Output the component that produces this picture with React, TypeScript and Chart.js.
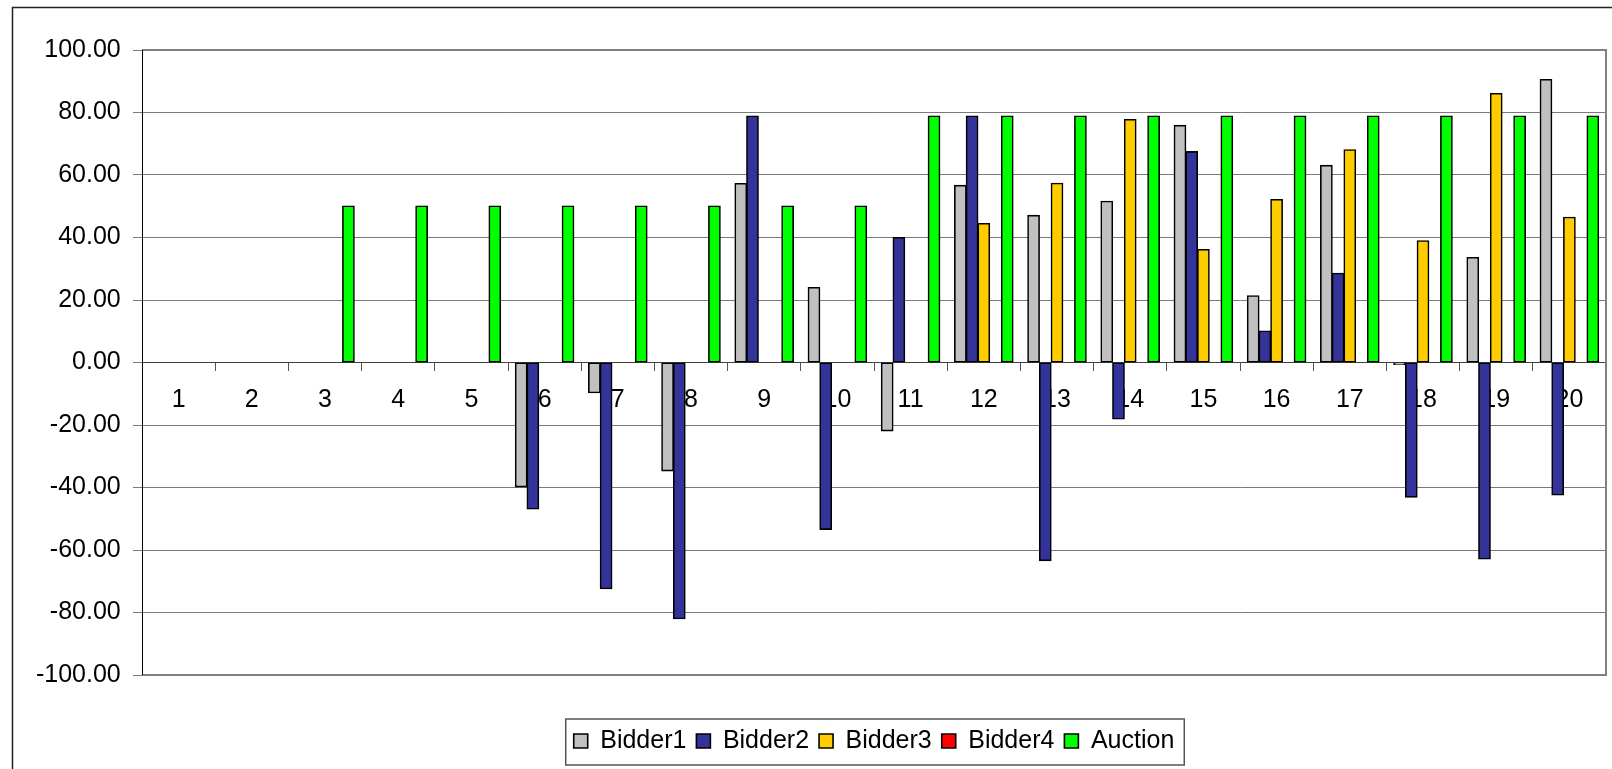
import React, { useEffect, useRef } from 'react';
import { Chart, registerables } from 'chart.js';

Chart.register(...registerables);

const categories = ['1', '2', '3', '4', '5', '6', '7', '8', '9', '10', '11', '12', '13', '14', '15', '16', '17', '18', '19', '20'];

const bidder1 = [0, 0, 0, 0, 0, -39.8, -9.7, -34.7, 57.3, 24.0, -21.9, 56.7, 47.1, 51.6, 75.9, 21.4, 63.1, -0.6, 33.6, 90.6];
const bidder2 = [0, 0, 0, 0, 0, -46.9, -72.4, -82.0, 78.9, -53.4, 40.0, 78.9, -63.4, -18.1, 67.5, 10.1, 28.6, -43.1, -62.9, -42.4];
const bidder3 = [0, 0, 0, 0, 0, 0, 0, 0, 0, 0, 0, 44.5, 57.4, 77.8, 36.2, 52.2, 68.1, 39.0, 86.1, 46.5];
const bidder4 = [0, 0, 0, 0, 0, 0, 0, 0, 0, 0, 0, 0, 0, 0, 0, 0, 0, 0, 0, 0];
const auction = [0, 0, 50.1, 50.1, 50.1, 50.1, 50.1, 50.1, 50.1, 50.1, 78.9, 78.9, 78.9, 78.9, 78.9, 78.9, 78.9, 78.9, 78.9, 78.9];

const seriesNames = ['Bidder1', 'Bidder2', 'Bidder3', 'Bidder4', 'Auction'];
const seriesColors = ['#C0C0C0', '#333399', '#FFCC00', '#FF0000', '#00FF00'];

const yMin = -100;
const yMax = 100;
const yStep = 20;

const FONT_FAMILY = "'Liberation Sans', Arial, sans-serif";

export default function App() {
  const ref = useRef<HTMLCanvasElement | null>(null);

  useEffect(() => {
    const canvas = ref.current;
    if (!canvas) return;

    const framePlugin = {
      id: 'excelFrame',
      beforeDraw(chart: any) {
        const ctx = chart.ctx;
        ctx.save();
        ctx.fillStyle = '#ffffff';
        ctx.fillRect(0, 0, chart.width, chart.height);
        ctx.strokeStyle = '#222222';
        ctx.lineWidth = 1.5;
        ctx.beginPath();
        ctx.moveTo(12.5, chart.height + 5);
        ctx.lineTo(12.5, 7.5);
        ctx.lineTo(chart.width + 5, 7.5);
        ctx.stroke();
        ctx.restore();
      },
      afterDatasetsDraw(chart: any) {
        const ctx = chart.ctx;
        const a = chart.chartArea;
        ctx.save();
        ctx.strokeStyle = '#808080';
        ctx.lineWidth = 2;
        ctx.beginPath();
        ctx.moveTo(a.left, a.top);
        ctx.lineTo(a.right, a.top);
        ctx.lineTo(a.right, a.bottom);
        ctx.lineTo(a.left, a.bottom);
        ctx.stroke();
        ctx.strokeStyle = '#000000';
        ctx.lineWidth = 1;
        ctx.beginPath();
        ctx.moveTo(Math.round(a.left) + 0.5, a.top);
        ctx.lineTo(Math.round(a.left) + 0.5, a.bottom);
        ctx.stroke();
        ctx.restore();
      },
      afterDraw(chart: any) {
        const lg = chart.legend;
        if (!lg || !lg.legendHitBoxes || !lg.legendHitBoxes.length) return;
        const hb = lg.legendHitBoxes;
        const first = hb[0];
        const last = hb[hb.length - 1];
        const left = first.left - 8;
        const right = last.left + last.width + 10;
        const top = first.top - 9.5;
        const bottom = first.top + 36.5;
        const ctx = chart.ctx;
        ctx.save();
        ctx.strokeStyle = '#555555';
        ctx.lineWidth = 1.5;
        ctx.strokeRect(left, top, right - left, bottom - top);
        ctx.restore();
      },
    };

    const seriesData = [bidder1, bidder2, bidder3, bidder4, auction];

    const chart = new Chart(canvas, {
      type: 'bar',
      data: {
        labels: categories,
        datasets: seriesData.map((d, i) => ({
          label: seriesNames[i],
          data: d,
          backgroundColor: seriesColors[i],
          borderColor: '#000000',
          borderWidth: 1.6,
          borderSkipped: false,
          inflateAmount: 0.5,
          categoryPercentage: 0.8,
          barPercentage: 1.0,
          xAxisID: 'x',
          yAxisID: 'y',
        })),
      },
      options: {
        responsive: false,
        animation: false,
        devicePixelRatio: 1,
        layout: {
          padding: { left: 0, right: 6, top: 50, bottom: 5.5 },
        },
        plugins: {
          legend: {
            display: true,
            position: 'bottom',
            align: 'center',
            fullSize: false,
            labels: {
              boxWidth: 14,
              boxHeight: 14,
              padding: 10,
              color: '#000000',
              font: { family: FONT_FAMILY, size: 25 },
            },
          },
          tooltip: { enabled: false },
          title: { display: false },
        },
        scales: {
          x: {
            type: 'category',
            position: { y: 0 },
            offset: true,
            grid: {
              display: true,
              offset: true,
              drawOnChartArea: false,
              drawTicks: true,
              tickLength: 8,
              color: '#555555',
              lineWidth: 1,
            },
            border: { display: true, color: '#404040', width: 1 },
            ticks: {
              color: '#000000',
              font: { family: FONT_FAMILY, size: 25 },
              padding: 14.5,
              autoSkip: false,
              maxRotation: 0,
              minRotation: 0,
            },
          },
          y: {
            type: 'linear',
            position: 'left',
            min: yMin,
            max: yMax,
            afterFit(scale: any) {
              scale.width = 142;
            },
            grid: {
              display: true,
              color: '#7a7a7a',
              lineWidth: 1,
              drawTicks: true,
              tickLength: 9,
            },
            border: { display: true, color: '#000000', width: 1 },
            ticks: {
              stepSize: yStep,
              color: '#000000',
              font: { family: FONT_FAMILY, size: 25 },
              padding: 12.3,
              callback: (v: any) => Number(v).toFixed(2),
            },
          },
          x2: {
            type: 'linear',
            position: 'bottom',
            display: true,
            grid: { display: false, drawTicks: false },
            border: { display: false },
            ticks: { display: false },
            afterFit(scale: any) {
              scale.height = 43.5;
            },
          },
        },
      } as any,
      plugins: [framePlugin],
    });

    return () => {
      chart.destroy();
    };
  }, []);

  return (
    <div
      style={{
        position: 'fixed',
        left: 0,
        top: 0,
        width: 1612,
        height: 769,
        background: '#ffffff',
        overflow: 'hidden',
      }}
    >
      <canvas ref={ref} width={1612} height={769} style={{ display: 'block', width: 1612, height: 769 }} />
    </div>
  );
}
